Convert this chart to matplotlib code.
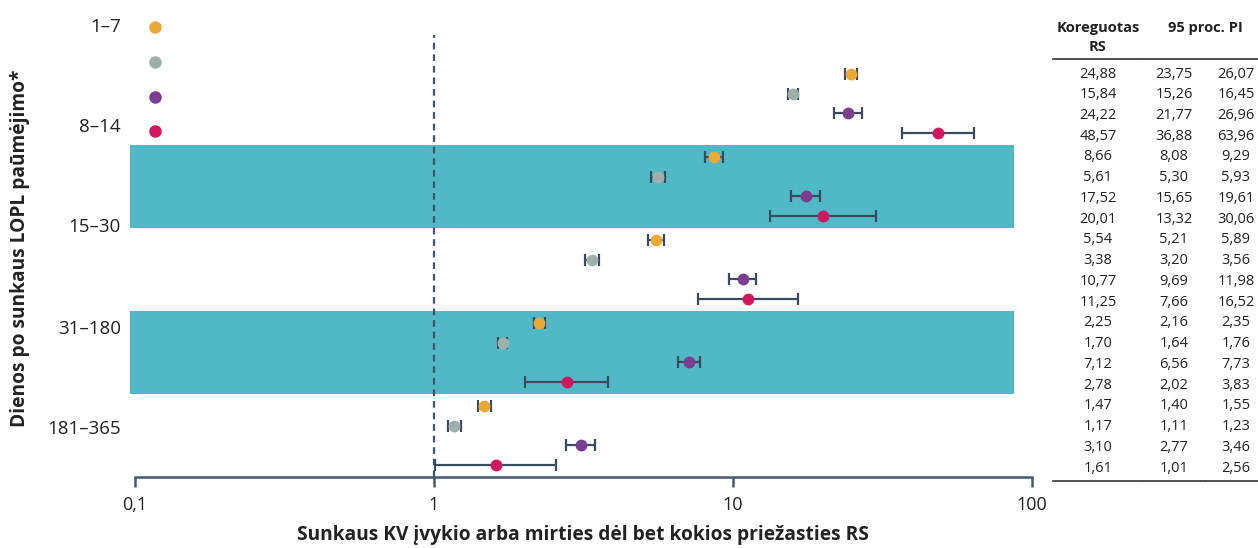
import numpy as np
import matplotlib
matplotlib.use('Agg')
from matplotlib import pyplot as plt

plt.rcParams['font.family'] = ['Open Sans', 'DejaVu Sans']

# laikotarpiai (dienos) ir keturios serijos kiekvienam laikotarpiui
grupes = ['1–7', '8–14', '15–30', '31–180', '181–365']
spalvos = ['#EAA937', '#9FB0AB', '#7B3E8F', '#D3175C']

# koreguotas RS ir 95 proc. PI (eilės tvarka: grupė, tada serija)
rs = [24.88, 15.84, 24.22, 48.57,
      8.66, 5.61, 17.52, 20.01,
      5.54, 3.38, 10.77, 11.25,
      2.25, 1.70, 7.12, 2.78,
      1.47, 1.17, 3.10, 1.61]
pi_apat = [23.75, 15.26, 21.77, 36.88,
           8.08, 5.30, 15.65, 13.32,
           5.21, 3.20, 9.69, 7.66,
           2.16, 1.64, 6.56, 2.02,
           1.40, 1.11, 2.77, 1.01]
pi_virs = [26.07, 16.45, 26.96, 63.96,
           9.29, 5.93, 19.61, 30.06,
           5.89, 3.56, 11.98, 16.52,
           2.35, 1.76, 7.73, 3.83,
           1.55, 1.23, 3.46, 2.56]

W, H = 1258, 548
fig = plt.figure(figsize=(W / 100, H / 100), dpi=100)

# asies ribos pikseliais
ax_l, ax_r, ax_t, ax_b = 125, 1040, 15, 477
x0_px, dek = 135, 299.0          # 0,1 ties 135 px, dekada = 299 px
ax = fig.add_axes([ax_l / W, 1 - ax_b / H, (ax_r - ax_l) / W, (ax_b - ax_t) / H])
ax.set_xscale('log')
ax.set_xlim(10 ** (-1 + (ax_l - x0_px) / dek), 10 ** (-1 + (ax_r - x0_px) / dek))

# eilučių pozicijos: pirma eilė ties 74 px, žingsnis 19,5 px, grupės periodas 83 px
y0_px, zing, periodas = 74, 19.5, 83.0
P = periodas / zing
def px2y(p):
    return (p - y0_px) / zing
ax.set_ylim(px2y(ax_b), px2y(ax_t))

n_ser = len(spalvos)
for i in range(len(rs)):
    g, s = divmod(i, n_ser)
    y = g * P + s
    ax.errorbar(rs[i], y, xerr=[[rs[i] - pi_apat[i]], [pi_virs[i] - rs[i]]],
                fmt='o', color=spalvos[s], ecolor='#3A4B60', elinewidth=1.6,
                capsize=4, capthick=1.6, markersize=7.5, markeredgecolor=spalvos[s],
                zorder=3)

# melsvos juostos kas antrai grupei
for g in (1, 3):
    ax.fill_between([10 ** (-1 + (130 - x0_px) / dek), 10 ** (-1 + (1014 - x0_px) / dek)],
                    g * P - 0.64, g * P + 3.62, color='#50B8C6', lw=0, zorder=1)

# legendos taškai kairėje
leg_px = [27, 62, 97, 131]
for s in range(n_ser):
    ax.plot(10 ** (-1 + (155 - x0_px) / dek), px2y(leg_px[s]), 'o', color=spalvos[s],
            markersize=9, markeredgewidth=0, zorder=3, clip_on=False)

# brūkšninė linija ties 1
ax.axvline(1, ymin=0, ymax=(ax_b - 35) / (ax_b - ax_t), color='#3D566C', lw=1.6,
           ls=(0, (3, 2.2)), zorder=2)

# ašys
for k in ('top', 'right', 'left'):
    ax.spines[k].set_visible(False)
ax.spines['bottom'].set_bounds(0.1, 100)
ax.spines['bottom'].set_color('#4A5868')
ax.spines['bottom'].set_linewidth(1.8)
ax.set_xticks([0.1, 1, 10, 100])
ax.set_xticklabels(['0,1', '1', '10', '100'])
ax.xaxis.set_minor_locator(matplotlib.ticker.NullLocator())
ax.tick_params(axis='x', length=7, width=1.8, color='#4A5868', labelsize=13,
               pad=7, labelcolor='#222222')

lab_px = [25, 125, 225, 327, 427]
ax.set_yticks([px2y(p) for p in lab_px])
ax.set_yticklabels(grupes)
ax.tick_params(axis='y', length=0, labelsize=13.5, pad=3, labelcolor='#222222')

fig.text(20 / W, 1 - 248 / H, 'Dienos po sunkaus LOPL paūmėjimo*', rotation=90,
         ha='center', va='center', fontsize=13.8, fontweight='bold', color='#222222')
fig.text(583 / W, 1 - 535 / H, 'Sunkaus KV įvykio arba mirties dėl bet kokios priežasties RS',
         ha='center', va='center', fontsize=13.8, fontweight='bold', color='#222222')

# lentelė dešinėje
stulp_x = [1098, 1174, 1236]
fig.text(1098 / W, 1 - 28 / H, 'Koreguotas', ha='center', va='center',
         fontsize=10.5, fontweight='bold', color='#222222')
fig.text(1098 / W, 1 - 47 / H, 'RS', ha='center', va='center',
         fontsize=10.5, fontweight='bold', color='#222222')
fig.text(1205 / W, 1 - 28 / H, '95 proc. PI', ha='center', va='center',
         fontsize=10.5, fontweight='bold', color='#222222')

eil_y = np.linspace(74, 468, len(rs))
for i in range(len(rs)):
    for x, v in zip(stulp_x, (rs[i], pi_apat[i], pi_virs[i])):
        fig.text(x / W, 1 - eil_y[i] / H, f'{v:.2f}'.replace('.', ','), ha='center',
                 va='center', fontsize=10.5, color='#222222')

for yl in (59, 481):
    for xa, xb in ((1053, 1142), (1143, 1205), (1206, 1258)):
        fig.add_artist(plt.Line2D([xa / W, xb / W], [1 - yl / H, 1 - yl / H],
                                  color='#333333', lw=1.2))

fig.savefig('out.png', dpi=100)
